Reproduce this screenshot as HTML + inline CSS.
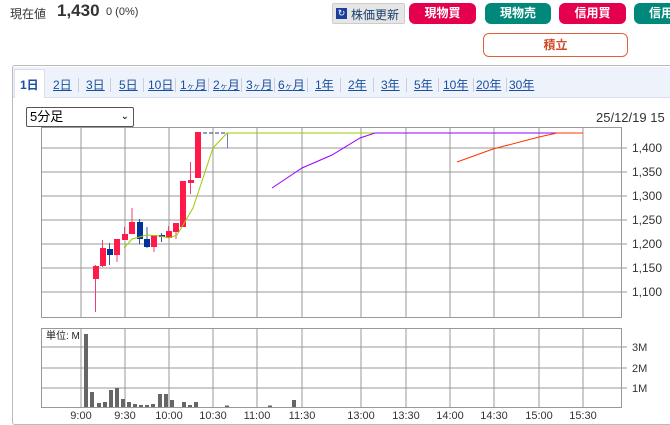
<!DOCTYPE html>
<html><head><meta charset="utf-8"><style>
body{margin:0;width:670px;height:422px;overflow:hidden;background:#fff;font-family:"Liberation Sans","Noto Sans CJK JP",sans-serif;position:relative}
.a{position:absolute;white-space:nowrap}
.btn{position:absolute;border-radius:6px;color:#fff;font-size:12px;font-weight:bold;text-align:center;line-height:21px;height:21px;top:3px}
.tab{position:absolute;top:76px;font-size:12px;color:#1a4fa0;text-decoration:underline}
.tab small{font-size:8px}
.sep{position:absolute;top:78px;width:1px;height:14px;background:#ccd}
</style></head><body>
<div class="a" style="left:10px;top:5px;font-size:12px;color:#333">現在値</div>
<div class="a" style="left:57px;top:1px;font-size:17px;font-weight:bold;color:#333">1,430</div>
<div class="a" style="left:106px;top:6px;font-size:11px;color:#333">0 (0%)</div>
<div class="a" style="left:332px;top:3px;width:73px;height:21px;background:#e6e6e6;border:1px solid #ccc;border-radius:2px;box-sizing:border-box"></div>
<div class="a" style="left:336px;top:8px;width:11px;height:11px;background:#1a3f9a;color:#fff;font-size:9px;line-height:11px;text-align:center">↻</div>
<div class="a" style="left:351px;top:6px;font-size:12px;color:#1a3f6a">株価更新</div>
<div class="btn" style="left:409px;width:67px;background:#e4004f">現物買</div>
<div class="btn" style="left:485px;width:66px;background:#00887a">現物売</div>
<div class="btn" style="left:559px;width:67px;background:#e4004f">信用買</div>
<div class="btn" style="left:634px;width:50px;background:#00887a;text-align:left;padding-left:15px">信用</div>
<div class="a" style="left:483px;top:33px;width:145px;height:24px;border:1px solid #e0603a;border-radius:6px;box-sizing:border-box;text-align:center;line-height:22px;font-size:12px;font-weight:bold;color:#d04a24">積立</div>
<div class="a" style="left:12px;top:65px;width:670px;height:360px;border:1px solid #bbb;border-radius:3px;box-sizing:border-box"></div>
<div class="a" style="left:13px;top:67px;width:660px;height:30px;background:#eef3fb;border-bottom:1px solid #d8dfea"></div>
<div class="a" style="left:14px;top:69px;width:31px;height:29px;background:#fff;border:1px solid #d8dfea;border-bottom:none;box-sizing:border-box"></div>
<div class="a" style="left:20px;top:76px;font-size:12px;font-weight:bold;color:#1a4fa0">1日</div>
<div class="tab" style="left:53px">2日</div><div class="sep" style="left:78px"></div>
<div class="tab" style="left:86px">3日</div><div class="sep" style="left:110px"></div>
<div class="tab" style="left:119px">5日</div><div class="sep" style="left:143px"></div>
<div class="tab" style="left:148px">10日</div><div class="sep" style="left:175px"></div>
<div class="tab" style="left:180px">1<small>ヶ</small>月</div><div class="sep" style="left:208px"></div>
<div class="tab" style="left:213px">2<small>ヶ</small>月</div><div class="sep" style="left:241px"></div>
<div class="tab" style="left:246px">3<small>ヶ</small>月</div><div class="sep" style="left:274px"></div>
<div class="tab" style="left:278px">6<small>ヶ</small>月</div><div class="sep" style="left:307px"></div>
<div class="tab" style="left:315px">1年</div><div class="sep" style="left:340px"></div>
<div class="tab" style="left:348px">2年</div><div class="sep" style="left:373px"></div>
<div class="tab" style="left:381px">3年</div><div class="sep" style="left:406px"></div>
<div class="tab" style="left:414px">5年</div><div class="sep" style="left:438px"></div>
<div class="tab" style="left:443px">10年</div><div class="sep" style="left:473px"></div>
<div class="tab" style="left:476px">20年</div><div class="sep" style="left:506px"></div>
<div class="tab" style="left:509px">30年</div>
<div class="a" style="left:26px;top:107px;width:108px;height:20px;border:1px solid #555;border-radius:2px;box-sizing:border-box;font-size:13px;line-height:18px;padding-left:3px">5分足<span style="position:absolute;right:4px;font-size:10px">⌄</span></div>
<div class="a" style="left:596px;top:110px;font-size:13px;color:#333">25/12/19 15</div>
<svg class="a" style="left:0;top:0" width="670" height="422" font-family="Liberation Sans, sans-serif" font-size="12" fill="#333">
<g stroke="#bbb" stroke-width="1.5">
<path d="M81 127V317M125 127V317M169 127V317M213 127V317M257 127V317M302 127V317M361 127V317M406 127V317M450 127V317M494 127V317M539 127V317M583 127V317"/>
<path d="M81 328V407M125 328V407M169 328V407M213 328V407M257 328V407M302 328V407M361 328V407M406 328V407M450 328V407M494 328V407M539 328V407M583 328V407"/>
</g>
<g stroke="#999" stroke-width="1">
<path d="M41 148H627M41 172H627M41 196H627M41 220H627M41 244H627M41 268H627M41 292H627"/>
<path d="M41 347H627M41 368H627M41 388H627"/>
</g>
<rect x="41.5" y="127.5" width="580" height="190" fill="none" stroke="#999"/>
<rect x="41.5" y="328.5" width="580" height="79" fill="none" stroke="#999"/>
<g font-size="12">
<text x="632" y="152">1,400</text><text x="632" y="176">1,350</text><text x="632" y="200">1,300</text><text x="632" y="224">1,250</text><text x="632" y="248">1,200</text><text x="632" y="272">1,150</text><text x="632" y="296">1,100</text>
<text x="632" y="351" font-size="11">3M</text><text x="632" y="372" font-size="11">2M</text><text x="632" y="392" font-size="11">1M</text>
</g>
<text x="46" y="339" font-size="10" fill="#222">単位: M</text>
<g font-size="11" text-anchor="middle">
<text x="81" y="419">9:00</text><text x="125" y="419">9:30</text><text x="169" y="419">10:00</text><text x="213" y="419">10:30</text><text x="257" y="419">11:00</text><text x="302" y="419">11:30</text><text x="361" y="419">13:00</text><text x="406" y="419">13:30</text><text x="450" y="419">14:00</text><text x="494" y="419">14:30</text><text x="539" y="419">15:00</text><text x="583" y="419">15:30</text>
</g>
<g stroke-width="1">
<g stroke="#f04070"><path d="M95.5 265V312M102.5 240V267M117 239V262M124.5 227V240M132 208V234M154 235V252M168.5 226V238M176 223V239M190.5 162V194"/></g>
<g stroke="#3355aa"><path d="M109.5 243V265M139.5 219V244M147 227V248M161.5 233V242"/></g>
</g>
<g fill="#ff1a4a">
<rect x="93" y="266" width="6" height="13"/><rect x="100" y="248" width="6" height="18"/><rect x="114" y="239" width="6" height="16"/><rect x="122" y="234" width="6" height="6"/><rect x="129" y="222" width="6" height="12"/><rect x="151" y="235" width="6" height="12"/><rect x="166" y="231" width="6" height="7"/><rect x="173" y="223" width="6" height="9"/><rect x="180" y="181" width="6" height="46"/><rect x="188" y="180" width="6" height="3"/><rect x="195" y="132" width="6" height="46"/>
</g>
<g fill="#003399">
<rect x="107" y="249" width="6" height="6"/><rect x="137" y="222" width="6" height="17"/><rect x="144" y="239" width="6" height="8"/><rect x="159" y="235" width="6" height="2"/>
</g>
<path d="M203 133H227" stroke="#1a3f9a" stroke-dasharray="4,2"/>
<path d="M227.5 133V148" stroke="#6680c0"/>
<polyline fill="none" stroke="#99cc00" stroke-width="1" points="124,248 132,239 147,235 160,236 169,238 177,235 183,225 193,208 203,178 213,148 227,133 375,133"/>
<polyline fill="none" stroke="#9900ff" stroke-width="1" points="272,188 302,168 332,155 360,138 375,133 557,133"/>
<polyline fill="none" stroke="#ff3300" stroke-width="1" points="457,162 493,149 539,137 557,133 583,133"/>
<g fill="#666">
<rect x="84" y="334" width="4" height="73"/><rect x="90" y="392" width="4" height="15"/><rect x="97" y="403" width="4" height="4"/><rect x="103" y="402" width="4" height="5"/><rect x="109" y="390" width="4" height="17"/><rect x="115" y="388" width="4" height="19"/><rect x="121" y="399" width="4" height="8"/><rect x="127" y="402" width="4" height="5"/><rect x="133" y="404" width="4" height="3"/><rect x="139" y="405" width="4" height="2"/><rect x="145" y="405" width="4" height="2"/><rect x="151" y="404" width="4" height="3"/><rect x="158" y="394" width="4" height="13"/><rect x="164" y="394" width="4" height="13"/><rect x="170" y="400" width="4" height="7"/><rect x="182" y="402" width="4" height="5"/><rect x="188" y="405" width="4" height="2"/><rect x="194" y="402" width="4" height="5"/><rect x="225" y="405.5" width="4" height="1.5"/><rect x="268" y="405.5" width="4" height="1.5"/><rect x="292" y="400" width="4" height="7"/>
</g>
</svg>
</body></html>
